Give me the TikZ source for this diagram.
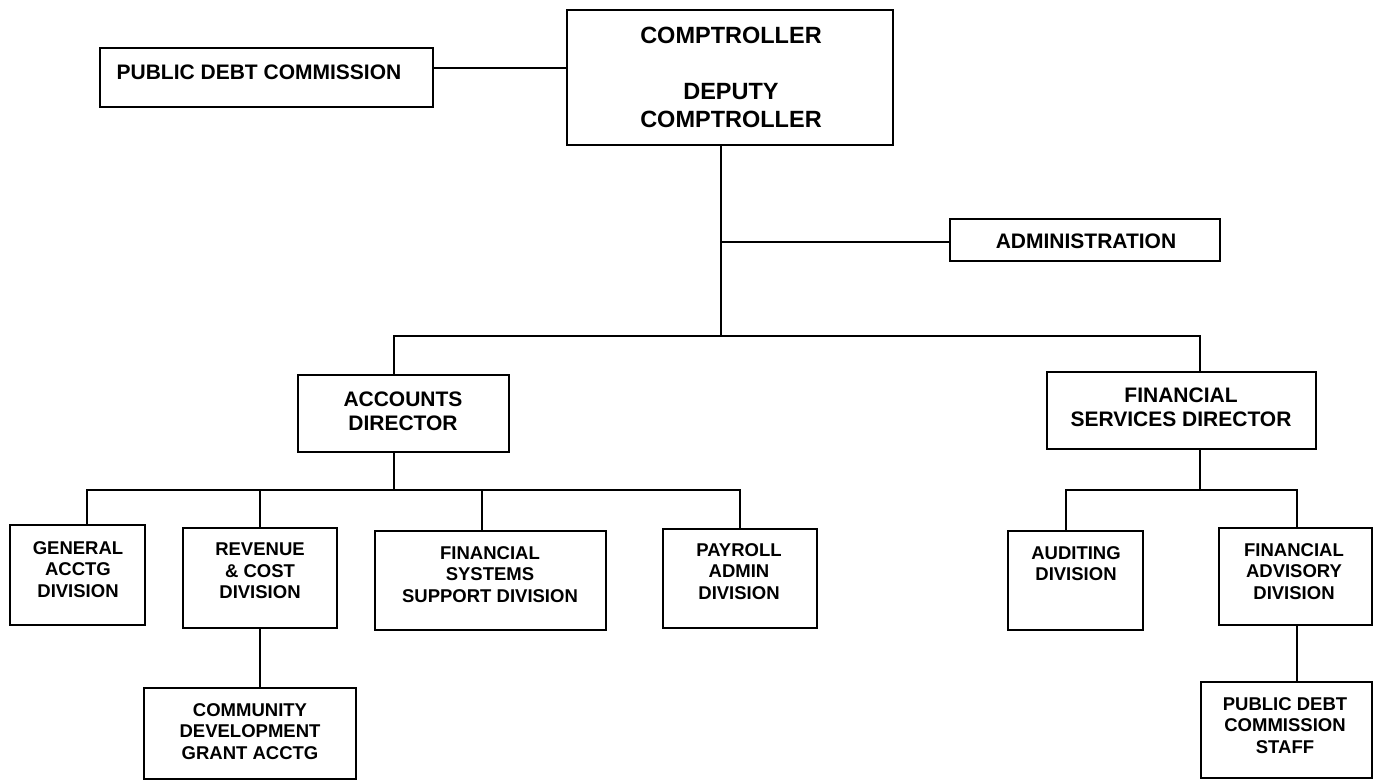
\documentclass[tikz,border=0pt]{standalone}
\usepackage{fontspec}
\setmainfont{Liberation Sans}
\newcommand\orgbox[5]{\node[box, minimum width={#4-#2}, minimum height={#5-#3}] (#1) at ({(#2+#4)/2},{(#3+#5)/2}) {};}
\tikzset{
  box/.style={draw, line width=2pt, inner sep=0pt, outer sep=0pt},
  conn/.style={line width=2pt},
  divtxt/.style={font=\fontsize{18.5}{21.5}\selectfont\bfseries, align=center, inner sep=0pt, anchor=north},
  dirtxt/.style={font=\fontsize{21}{24}\selectfont\bfseries, align=center, inner sep=0pt, anchor=north},
  comptxt/.style={font=\fontsize{23.5}{28}\selectfont\bfseries, align=center, inner sep=0pt, anchor=north}
}
\begin{document}
\begin{tikzpicture}[x=1pt, y=-1pt]
\useasboundingbox (0,0) rectangle (1374,781);
% boxes
\orgbox{pdc}{100}{48}{433}{107}
\orgbox{comp}{567}{10}{893}{145}
\orgbox{admin}{950}{219}{1220}{261}
\orgbox{acc}{298}{375}{509}{452}
\orgbox{fsd}{1047}{372}{1316}{449}
\orgbox{gen}{10}{525}{145}{625}
\orgbox{rev}{183}{528}{337}{628}
\orgbox{fss}{375}{531}{606}{630}
\orgbox{pay}{663}{529}{817}{628}
\orgbox{com}{144}{688}{356}{779}
\orgbox{aud}{1008}{531}{1143}{630}
\orgbox{fa}{1219}{528}{1372}{625}
\orgbox{pdcs}{1201}{682}{1372}{778}
% texts
\node[dirtxt] (pdc-t) at (259,65) {PUBLIC DEBT COMMISSION};
\node[comptxt] (comp-t) at (731,27) {COMPTROLLER\\[28pt]DEPUTY\\COMPTROLLER};
\node[dirtxt] (admin-t) at (1086,234) {ADMINISTRATION};
\node[dirtxt] (acc-t) at (403,392) {ACCOUNTS\\DIRECTOR};
\node[dirtxt] (fsd-t) at (1181,388) {FINANCIAL\\SERVICES DIRECTOR};
\node[divtxt] (gen-t) at (78,541) {GENERAL\\ACCTG\\DIVISION};
\node[divtxt] (rev-t) at (260,543) {REVENUE\\\& COST\\DIVISION};
\node[divtxt] (fss-t) at (490,546) {FINANCIAL\\SYSTEMS\\SUPPORT DIVISION};
\node[divtxt] (pay-t) at (739,543) {PAYROLL\\ADMIN\\DIVISION};
\node[divtxt] (com-t) at (250,703) {COMMUNITY\\DEVELOPMENT\\GRANT ACCTG};
\node[divtxt] (aud-t) at (1076,546) {AUDITING\\DIVISION};
\node[divtxt] (fa-t) at (1294,543) {FINANCIAL\\ADVISORY\\DIVISION};
\node[divtxt] (pdcs-t) at (1285,697) {PUBLIC DEBT\\COMMISSION\\STAFF};
% junction coordinates
\coordinate (j0) at (0,68);
\coordinate (t1) at (721,242);
\coordinate (ha) at (394,336);
\coordinate (hf) at (1200,336);
\coordinate (ba) at (394,490);
\coordinate (b1) at (87,490);
\coordinate (b2) at (260,490);
\coordinate (b3) at (482,490);
\coordinate (b4) at (740,490);
\coordinate (c0) at (1200,490);
\coordinate (c1) at (1066,490);
\coordinate (c2) at (1297,490);
% connectors
\draw[conn] (pdc.east |- j0) -- (comp.west |- j0);
\draw[conn] (comp.south -| t1) -- (t1) -- (ha -| t1);
\draw[conn] (t1) -- (admin.west |- t1);
\draw[conn] (acc.north -| ha) -- (ha) -- (hf) -- (fsd.north -| hf);
\draw[conn] (acc.south -| ba) -- (ba);
\draw[conn] (gen.north -| b1) -- (b1) -- (b4) -- (pay.north -| b4);
\draw[conn] (b2) -- (rev.north -| b2);
\draw[conn] (b3) -- (fss.north -| b3);
\draw[conn] (rev.south -| b2) -- (com.north -| b2);
\draw[conn] (fsd.south -| c0) -- (c0);
\draw[conn] (aud.north -| c1) -- (c1) -- (c2) -- (fa.north -| c2);
\draw[conn] (fa.south -| c2) -- (pdcs.north -| c2);
\end{tikzpicture}
\end{document}
